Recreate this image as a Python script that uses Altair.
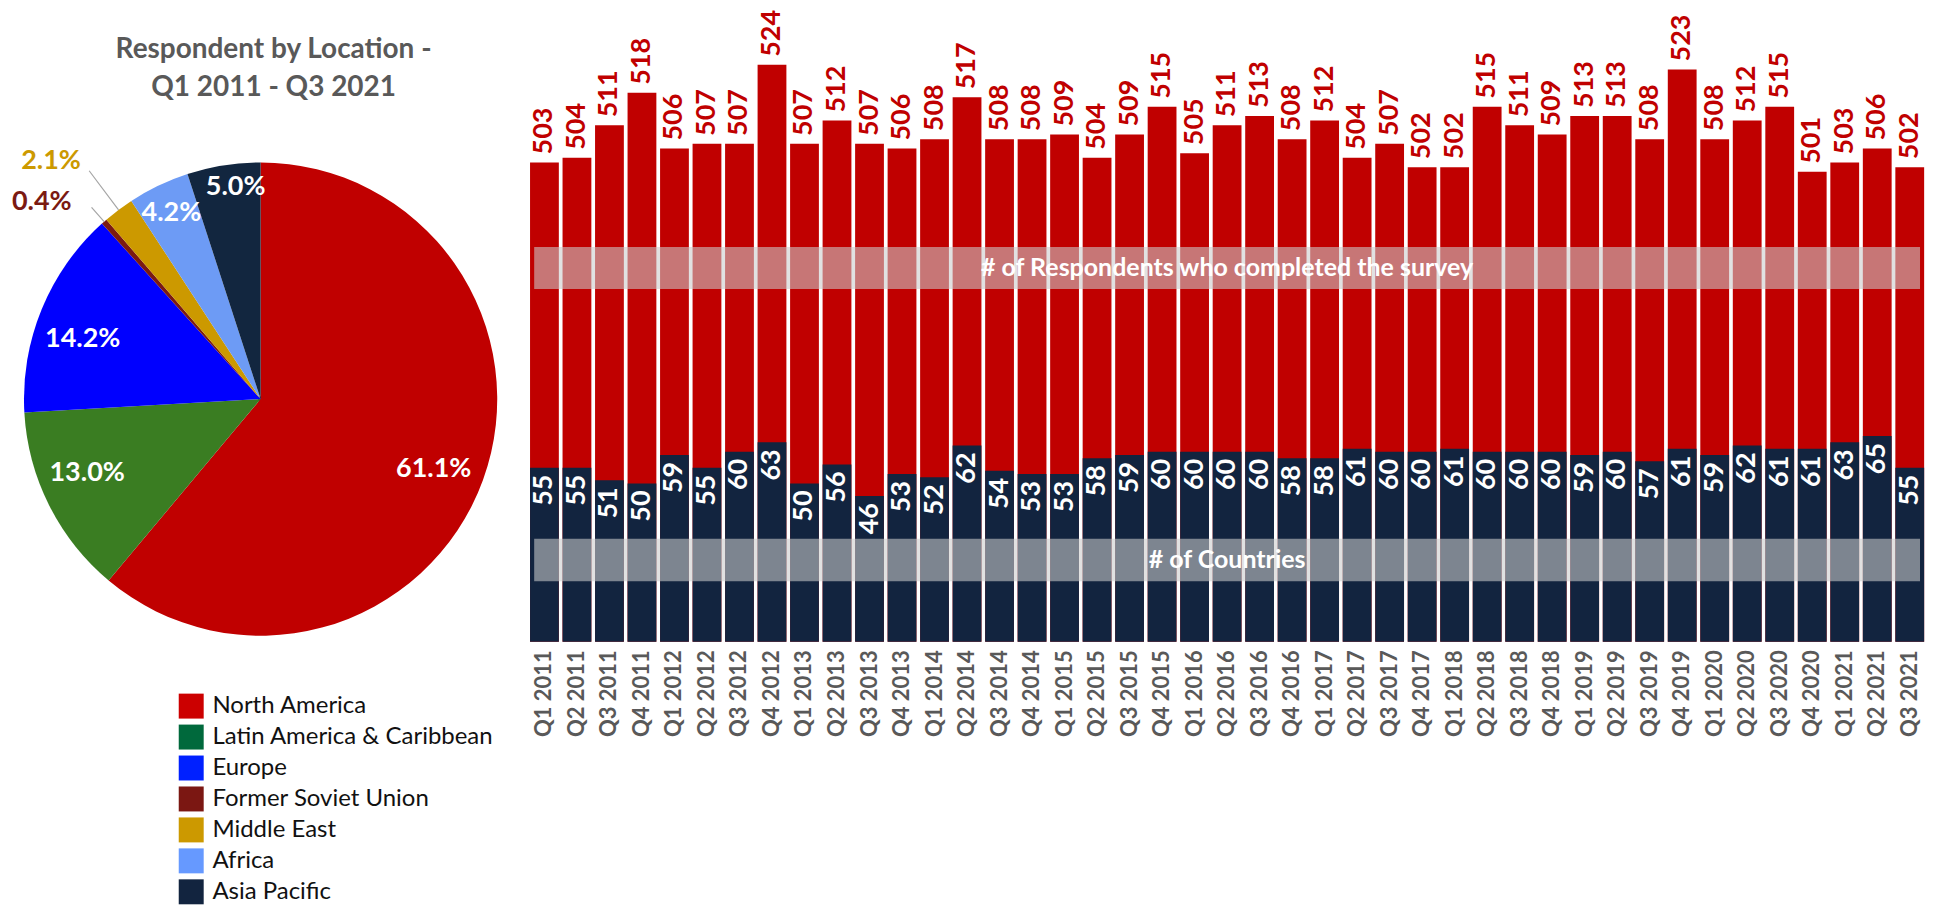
import altair as alt
import pandas as pd

# ---------------- data ----------------
quarters = [
    "Q1 2011", "Q2 2011", "Q3 2011", "Q4 2011",
    "Q1 2012", "Q2 2012", "Q3 2012", "Q4 2012",
    "Q1 2013", "Q2 2013", "Q3 2013", "Q4 2013",
    "Q1 2014", "Q2 2014", "Q3 2014", "Q4 2014",
    "Q1 2015", "Q2 2015", "Q3 2015", "Q4 2015",
    "Q1 2016", "Q2 2016", "Q3 2016", "Q4 2016",
    "Q1 2017", "Q2 2017", "Q3 2017", "Q4 2017",
    "Q1 2018", "Q2 2018", "Q3 2018", "Q4 2018",
    "Q1 2019", "Q2 2019", "Q3 2019", "Q4 2019",
    "Q1 2020", "Q2 2020", "Q3 2020", "Q4 2020",
    "Q1 2021", "Q2 2021", "Q3 2021",
]
respondents = [
    503, 504, 511, 518, 506, 507, 507, 524, 507, 512, 507, 506,
    508, 517, 508, 508, 509, 504, 509, 515, 505, 511, 513, 508,
    512, 504, 507, 502, 502, 515, 511, 509, 513, 513, 508, 523,
    508, 512, 515, 501, 503, 506, 502,
]
countries = [
    55, 55, 51, 50, 59, 55, 60, 63, 50, 56, 46, 53,
    52, 62, 54, 53, 53, 58, 59, 60, 60, 60, 60, 58,
    58, 61, 60, 60, 61, 60, 60, 60, 59, 60, 57, 61,
    59, 62, 61, 61, 63, 65, 55,
]

regions = [
    "North America", "Latin America & Caribbean", "Europe",
    "Former Soviet Union", "Middle East", "Africa", "Asia Pacific",
]
shares = [61.1, 13.0, 14.2, 0.4, 2.1, 4.2, 5.0]
pie_colors = ["#C00000", "#3A7D22", "#0000FF", "#7B1A12", "#CC9900", "#6D9BF5", "#12263F"]
legend_colors = ["#CC0000", "#00693C", "#0020FF", "#7B1712", "#CC9900", "#6699FF", "#12243F"]

title_lines = ["Respondent by Location -", "Q1 2011 - Q3 2021"]
band_labels = ["# of Respondents who completed the survey", "# of Countries"]

FONT = "Lato"

# ---------------- pie panel ----------------
pie_df = pd.DataFrame({
    "idx": list(range(len(regions))),
    "region": regions,
    "share": shares,
    "pie_color": pie_colors,
})

CX, CY, R = 253, 391, 237
theta_scale = alt.Scale(domain=[0, 100])

pie_base = alt.Chart(pie_df)

# carrier of the legend, hidden under the pie
legend_layer = pie_base.mark_square(size=20).encode(
    x=alt.value(CX),
    y=alt.value(CY),
    color=alt.Color(
        "region:N", sort=regions,
        scale=alt.Scale(domain=regions, range=legend_colors),
        legend=alt.Legend(
            title=None, orient="none", legendX=171, legendY=686,
            symbolType="square", symbolSize=625, symbolStrokeWidth=0,
            symbolOpacity=1, labelFont=FONT, labelFontSize=24,
            labelColor="#111111", rowPadding=6.0, labelOffset=8.7,
            padding=0, labelLimit=600,
        ),
    ),
)

arcs = pie_base.mark_arc(outerRadius=R).encode(
    theta=alt.Theta("share:Q", stack=True, scale=theta_scale),
    order=alt.Order("idx:Q"),
    fill=alt.Fill("pie_color:N", scale=None, legend=None),
    x=alt.value(CX),
    y=alt.value(CY),
)

mid_base = pie_base.transform_window(
    cum="sum(share)", sort=[{"field": "idx"}], frame=[None, 0]
).transform_calculate(
    mid="datum.cum - datum.share / 2",
    lab="format(datum.share, '.1f') + '%'",
)

def pie_text(region, radius, color="white", theta_offset=0.0):
    mk = dict(radius=radius, font=FONT, fontWeight="bold", fontSize=27,
              align="center", baseline="middle", color=color)
    if theta_offset:
        mk["thetaOffset"] = theta_offset
    return mid_base.transform_filter(
        alt.datum.region == region
    ).mark_text(**mk).encode(
        theta=alt.Theta("mid:Q", scale=theta_scale),
        text="lab:N",
        x=alt.value(CX),
        y=alt.value(CY),
    )

def col(region):
    return pie_colors[regions.index(region)]

labels = [
    pie_text("North America", 187, theta_offset=0.035),
    pie_text("Latin America & Caribbean", 189, theta_offset=0.06),
    pie_text("Europe", 188, theta_offset=-0.065),
    pie_text("Africa", 207),
    pie_text("Asia Pacific", 214, theta_offset=0.04),
    pie_text("Middle East", 318, color=col("Middle East"), theta_offset=-0.077),
    pie_text("Former Soviet Union", 295, color=col("Former Soviet Union"), theta_offset=-0.115),
]

def leader(region, outer):
    return mid_base.transform_filter(alt.datum.region == region).mark_arc(
        radius=outer, radius2=R, stroke="#A6A6A6", strokeWidth=1.2, fill="#A6A6A6"
    ).encode(
        theta=alt.Theta("mid:Q", scale=theta_scale),
        theta2="mid:Q",
        x=alt.value(CX),
        y=alt.value(CY),
    )

lead_me = leader("Middle East", 286)
lead_fsu = leader("Former Soviet Union", 256)

title = alt.Chart(pd.DataFrame({"t": [0]})).mark_text(
    text=title_lines, font=FONT, fontWeight="bold", fontSize=28,
    color="#595959", align="center", baseline="alphabetic", lineHeight=38,
).encode(x=alt.value(266), y=alt.value(49))

pie_panel = alt.layer(
    legend_layer, arcs, lead_me, lead_fsu, *labels, title
).properties(width=521, height=634)

# ---------------- bar panel ----------------
bar_df = pd.DataFrame({
    "quarter": quarters,
    "respondents": respondents,
    "countries": countries,
})

BW, BH = 1400, 634
red_scale = alt.Scale(domain=[400, 536.05], zero=False, nice=False)
navy_scale = alt.Scale(domain=[0, 200], nice=False)

xenc = alt.X(
    "quarter:N", sort=quarters,
    scale=alt.Scale(paddingInner=0.114, paddingOuter=0.057),
    axis=alt.Axis(
        title=None, labelAngle=270, labelFont=FONT, labelFontWeight="bold",
        labelFontSize=22, labelColor="#595959", ticks=False, domain=False,
        labelPadding=8, grid=False,
    ),
)

bar_base = alt.Chart(bar_df)

red_bars = bar_base.mark_bar(color="#C00000").encode(
    x=xenc,
    y=alt.Y("respondents:Q", scale=red_scale, axis=None),
    y2=alt.datum(400),
)
navy_bars = bar_base.mark_bar(color="#12243F").encode(
    x=xenc,
    y=alt.Y("countries:Q", scale=navy_scale, axis=None),
)
red_labels = bar_base.mark_text(
    angle=270, align="left", baseline="middle", dx=8,
    font=FONT, fontWeight="bold", fontSize=27, color="#C00000",
).encode(
    x=xenc,
    y=alt.Y("respondents:Q", scale=red_scale, axis=None),
    text="respondents:Q",
)
navy_labels = bar_base.mark_text(
    angle=270, align="right", baseline="middle", dx=-7,
    font=FONT, fontWeight="bold", fontSize=27, color="white",
).encode(
    x=xenc,
    y=alt.Y("countries:Q", scale=navy_scale, axis=None),
    text="countries:Q",
)

def band(label, y0, y1):
    d = alt.Chart(pd.DataFrame({"t": [label]}))
    rect = d.mark_rect(color="#CCCCCC", opacity=0.58).encode(
        x=alt.value(6), x2=alt.value(1394), y=alt.value(y0), y2=alt.value(y1)
    )
    txt = d.mark_text(
        font=FONT, fontWeight="bold", fontSize=25, color="white",
        align="center", baseline="middle",
    ).encode(text="t:N", x=alt.value(700), y=alt.value((y0 + y1) / 2))
    return rect, txt

b1r, b1t = band(band_labels[0], 238.6, 280.8)
b2r, b2t = band(band_labels[1], 531, 573.5)

bar_panel = alt.layer(
    red_bars, navy_bars, red_labels, navy_labels, b1r, b1t, b2r, b2t
).resolve_scale(y="independent").properties(width=BW, height=BH)

chart = alt.hconcat(pie_panel, bar_panel, spacing=0).properties(
    padding=0
).configure(font=FONT).configure_view(stroke=None)

chart.save("out.html", embed_options={"renderer": "svg", "actions": False})
